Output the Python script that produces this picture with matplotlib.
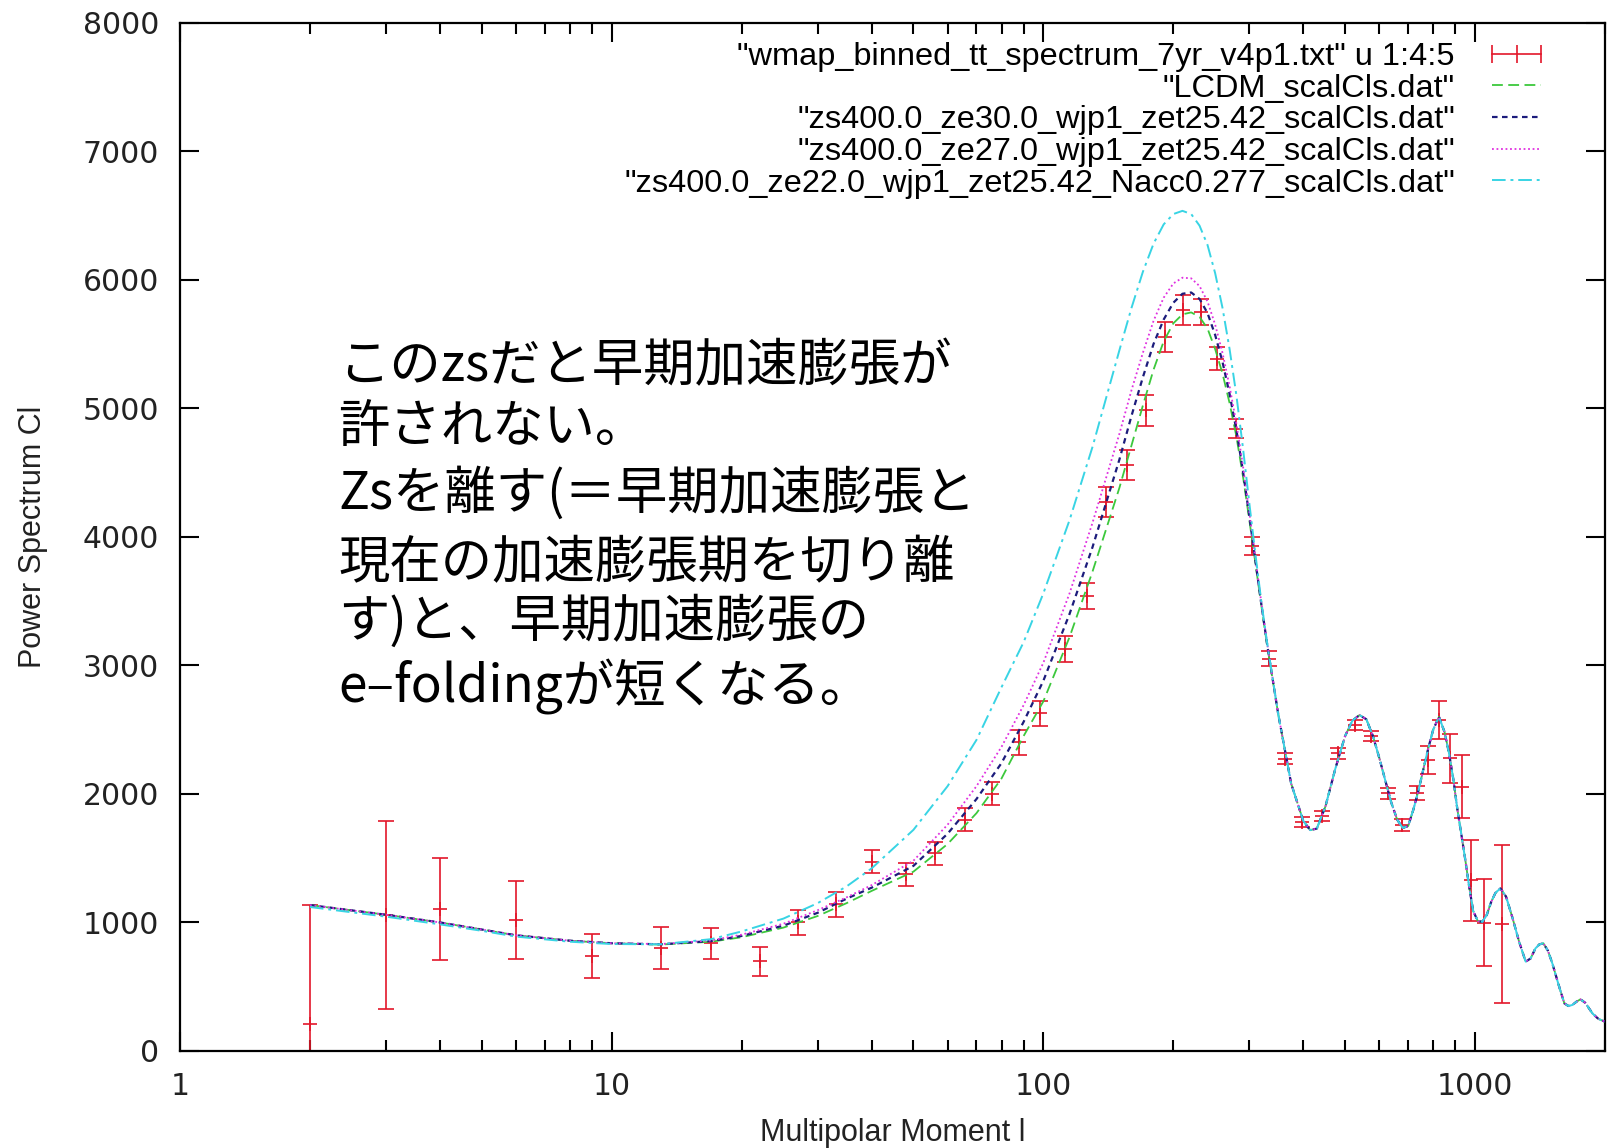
import numpy as np
import matplotlib
matplotlib.use("Agg")
import matplotlib.pyplot as plt
from matplotlib.lines import Line2D
from matplotlib.ticker import LogLocator, NullFormatter

# WMAP 7yr binned TT spectrum
wmap_l = [2, 3, 4, 6, 9, 13, 17, 22, 27, 33,
          40, 48, 56, 66, 76, 88, 98, 112, 126, 140,
          156, 173, 191, 211, 232, 253, 280, 304, 334, 363,
          398, 443, 481, 527, 575, 629, 677, 734, 778, 824,
          877, 933, 980, 1047, 1156]
wmap_cl = [207, 1057, 1104, 1020, 741, 799, 837, 697, 1000, 1140,
           1472, 1375, 1537, 1798, 2000, 2400, 2626, 3125, 3540, 4271,
           4557, 4984, 5554, 5762, 5749, 5386, 4842, 3925, 3052, 2275,
           1783, 1830, 2315, 2535, 2450, 2004, 1757, 2006, 2263, 2574,
           2276, 2055, 1327, 998, 988]
wmap_err = [925, 729, 395, 305, 171, 162, 120, 112, 95, 97,
            88, 88, 92, 90, 90, 95, 97, 100, 100, 115,
            117, 120, 117, 117, 104, 90, 72, 70, 60, 40,
            38, 38, 40, 40, 40, 45, 45, 55, 110, 150,
            188, 244, 313, 340, 615]

# model curves below l=350, where they differ
ell_low = [2, 3, 4, 5, 6, 8, 10, 13, 17, 20, 25, 30, 35, 40, 50, 60, 70, 80,
           90, 100, 115, 130, 150, 160, 170, 180, 190, 200, 210, 220, 230, 240,
           250, 260, 270, 280, 290, 300, 310, 320, 330]
lcdm_low = [1135, 1060, 1000, 945, 900, 858, 838, 828, 850, 885, 960, 1050, 1150,
            1245, 1395, 1610, 1850, 2120, 2450, 2720, 3220, 3730, 4380, 4710,
            5020, 5300, 5520, 5660, 5730, 5745, 5710, 5620, 5460, 5270, 5040,
            4780, 4470, 4130, 3790, 3460, 3150]
ze30_low = [1135, 1060, 1000, 945, 900, 858, 838, 830, 855, 895, 975, 1075, 1185,
            1270, 1440, 1690, 1960, 2240, 2560, 2880, 3400, 3920, 4600, 4940,
            5240, 5500, 5690, 5820, 5890, 5900, 5850, 5740, 5570, 5360, 5110,
            4830, 4510, 4160, 3810, 3470, 3160]
ze27_low = [1135, 1060, 1000, 945, 900, 858, 838, 832, 860, 905, 990, 1095, 1195,
            1290, 1480, 1760, 2060, 2366, 2690, 3020, 3560, 4110, 4800, 5140,
            5430, 5680, 5860, 5970, 6015, 6010, 5950, 5830, 5650, 5430, 5170,
            4880, 4550, 4190, 3830, 3480, 3170]
ze22_low = [1120, 1045, 985, 935, 890, 850, 832, 830, 870, 930, 1030, 1150, 1280,
            1420, 1720, 2060, 2420, 2830, 3180, 3560, 4130, 4700, 5450, 5780,
            6060, 6280, 6430, 6510, 6535, 6510, 6420, 6270, 6050, 5780, 5460,
            5100, 4690, 4260, 3860, 3490, 3170]

# above l=350 all four models lie on top of each other
ell_tail = [350, 375, 400, 415, 430, 450, 475, 500, 520, 540,
            560, 580, 600, 620, 640, 660, 680, 700, 720, 740,
            760, 780, 800, 825, 850, 870, 890, 910, 930, 950,
            970, 990, 1015, 1040, 1065, 1090, 1115, 1145, 1180, 1220,
            1265, 1310, 1345, 1380, 1410, 1440, 1475, 1510, 1560, 1610,
            1645, 1680, 1720, 1755, 1800, 1870, 1930, 2000]
cl_tail = [2620, 2080, 1790, 1718, 1730, 1900, 2200, 2450, 2570, 2613,
           2580, 2450, 2280, 2100, 1930, 1800, 1735, 1750, 1880, 2030,
           2200, 2360, 2500, 2600, 2480, 2320, 2120, 1880, 1680, 1480,
           1270, 1090, 1010, 1005, 1060, 1160, 1230, 1265, 1200, 1040,
           850, 695, 720, 798, 830, 837, 780, 682, 520, 371,
           350, 358, 385, 402, 375, 293, 250, 228]

labels = ['"wmap_binned_tt_spectrum_7yr_v4p1.txt" u 1:4:5',
          '"LCDM_scalCls.dat"',
          '"zs400.0_ze30.0_wjp1_zet25.42_scalCls.dat"',
          '"zs400.0_ze27.0_wjp1_zet25.42_scalCls.dat"',
          '"zs400.0_ze22.0_wjp1_zet25.42_Nacc0.277_scalCls.dat"']

note_lines = ["このzsだと早期加速膨張が",
              "許されない。",
              "Zsを離す(＝早期加速膨張と",
              "現在の加速膨張期を切り離",
              "す)と、早期加速膨張の",
              "e–foldingが短くなる。"]
note_y = [366, 427, 494, 563, 622, 687]  # pixel rows of the note lines

W, H = 1607, 1148
fig = plt.figure(figsize=(W / 100, H / 100), dpi=100)
ax = fig.add_axes([180 / W, 1 - 1051 / H, (1605 - 180) / W, (1051 - 22.5) / H])

red = '#e3172a'
ax.errorbar(wmap_l, wmap_cl, yerr=wmap_err, fmt='+', color=red, ms=10, mew=1.2,
            elinewidth=1.2, capsize=5.5, capthick=1.2, zorder=2)

ell = ell_low + ell_tail
l1, = ax.plot(ell, lcdm_low + cl_tail, color='#3cc83c', lw=1.3, dashes=(6, 3), zorder=3)
l2, = ax.plot(ell, ze30_low + cl_tail, color='#1c1c7c', lw=1.6, dashes=(2.5, 2), zorder=4)
l3, = ax.plot(ell, ze27_low + cl_tail, color='#e030e0', lw=1.3, dashes=(1, 1.5), zorder=5)
l4, = ax.plot(ell, ze22_low + cl_tail, color='#38d4e4', lw=1.4, dashes=(7, 2.5, 1.5, 2.5), zorder=6)

ax.set_xscale('log')
ax.set_xlim(1, 2000)
ax.set_ylim(0, 8000)
ax.set_xticks([1, 10, 100, 1000])
ax.set_xticklabels(['1', '10', '100', '1000'])
ax.xaxis.set_minor_locator(LogLocator(base=10, subs=np.arange(2, 10)))
ax.xaxis.set_minor_formatter(NullFormatter())
ax.set_yticks(np.arange(0, 8001, 1000))
ax.tick_params(which='both', direction='in', top=True, right=True, width=1.5)
ax.tick_params(which='major', length=14, labelsize=21.5, pad=15, labelcolor='#222222')
ax.tick_params(which='minor', length=8)
for s in ax.spines.values():
    s.set_linewidth(1.6)

lab_font = {'family': 'Liberation Sans', 'size': 22, 'color': '#222222'}
ax.set_xlabel('Multipolar Moment l', fontdict=lab_font, labelpad=12)
ax.set_ylabel('Power Spectrum Cl', fontdict=lab_font, labelpad=25)

err_handle = Line2D([], [], color=red, lw=1.2, marker='|', ms=13, mew=1.2)
ax.legend([err_handle, l1, l2, l3, l4], labels, loc='upper right',
          bbox_to_anchor=(0.962, 0.981), frameon=False, markerfirst=False,
          handlelength=2.1, handletextpad=0.85, labelspacing=0.05,
          borderpad=0, borderaxespad=0, numpoints=3,
          prop={'family': 'Liberation Sans', 'size': 23.4})

for line, y in zip(note_lines, note_y):
    fig.text(338 / W, 1 - y / H, line, fontsize=37, va='center', ha='left',
             family=['Noto Sans CJK JP', 'DejaVu Sans'])

fig.savefig('out.png', dpi=100)
